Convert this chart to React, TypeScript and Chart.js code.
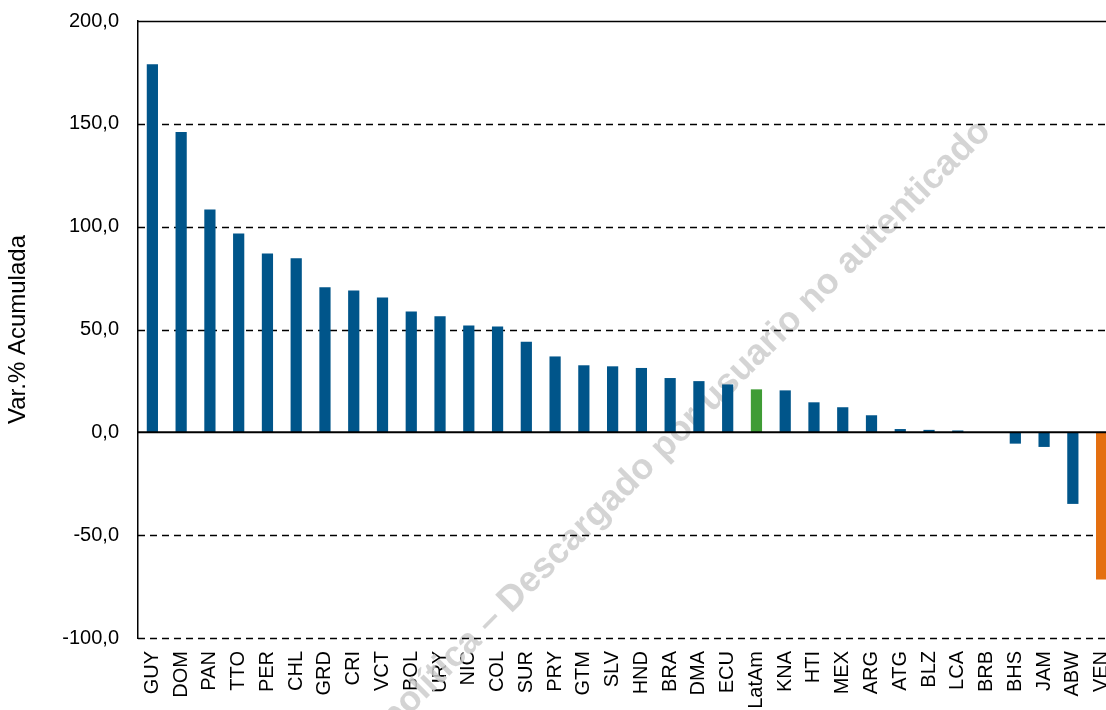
import { useEffect, useRef } from "react";
import { Chart, registerables } from "chart.js";

Chart.register(...registerables);

const categories = [
  "GUY", "DOM", "PAN", "TTO", "PER", "CHL", "GRD", "CRI", "VCT", "BOL",
  "URY", "NIC", "COL", "SUR", "PRY", "GTM", "SLV", "HND", "BRA", "DMA",
  "ECU", "LatAm", "KNA", "HTI", "MEX", "ARG", "ATG", "BLZ", "LCA", "BRB",
  "BHS", "JAM", "ABW", "VEN",
];

const values = [
  179.0, 146.0, 108.4, 96.7, 87.0, 84.6, 70.5, 69.0, 65.6, 58.8,
  56.4, 51.9, 51.5, 44.1, 36.9, 32.6, 32.1, 31.3, 26.4, 24.9,
  23.3, 20.9, 20.4, 14.6, 12.2, 8.3, 1.6, 1.2, 0.9, -0.3,
  -5.5, -7.1, -34.8, -71.6,
];

const yTickValues = [-100, -50, 0, 50, 100, 150, 200];
const yTitle = "Var.% Acumulada";
const watermarkText = "política – Descargado por usuario no autenticado";

const BLUE = "#00558A";
const GREEN = "#3F9C35";
const ORANGE = "#E46F10";

const barColors = categories.map((c) =>
  c === "LatAm" ? GREEN : c === "VEN" ? ORANGE : BLUE
);

const FONT = "'Liberation Sans', Arial, sans-serif";

const customPlugin = {
  id: "customGridAndWatermark",
  beforeDatasetsDraw(chart: any) {
    const { ctx, chartArea, scales } = chart;
    const y = scales.y;
    ctx.save();
    // watermark
    ctx.save();
    ctx.font = `bold 36px ${FONT}`;
    ctx.fillStyle = "rgba(205,205,205,0.85)";
    ctx.textAlign = "right";
    ctx.textBaseline = "middle";
    ctx.translate(985, 126);
    ctx.rotate(-Math.PI / 4);
    ctx.fillText(watermarkText, 0, 0);
    ctx.restore();
    // gridlines
    ctx.strokeStyle = "#000";
    ctx.lineWidth = 1.3;
    for (const v of yTickValues) {
      if (v === 0) continue;
      const py = Math.round(y.getPixelForValue(v)) + 0.5;
      ctx.setLineDash(v === 200 ? [] : [7, 5]);
      ctx.beginPath();
      ctx.moveTo(chartArea.left, py);
      ctx.lineTo(chartArea.right, py);
      ctx.stroke();
    }
    ctx.restore();
  },
  afterDatasetsDraw(chart: any) {
    const { ctx, chartArea, scales } = chart;
    const py = scales.y.getPixelForValue(0);
    ctx.save();
    ctx.strokeStyle = "#000";
    ctx.lineWidth = 2;
    ctx.setLineDash([]);
    ctx.beginPath();
    ctx.moveTo(chartArea.left, py);
    ctx.lineTo(chartArea.right, py);
    ctx.stroke();
    ctx.restore();
  },
};

export default function App() {
  const canvasRef = useRef<HTMLCanvasElement | null>(null);

  useEffect(() => {
    const canvas = canvasRef.current;
    if (!canvas) return;
    const chart = new Chart(canvas, {
      type: "bar",
      data: {
        labels: categories,
        datasets: [
          {
            data: values,
            backgroundColor: barColors,
            borderWidth: 0,
            barPercentage: 0.39,
            categoryPercentage: 1,
          },
        ],
      },
      options: {
        responsive: false,
        animation: false,
        devicePixelRatio: 1,
        layout: { padding: { top: 21, right: 18, bottom: 0, left: 0 } },
        plugins: {
          legend: { display: false },
          tooltip: { enabled: false },
        },
        scales: {
          x: {
            grid: { display: false, drawTicks: false },
            border: { display: false },
            ticks: {
              autoSkip: false,
              maxRotation: 90,
              minRotation: 90,
              color: "#000",
              padding: 13,
              font: { family: FONT, size: 20 },
            },
            afterFit: (s: any) => {
              s.height = 72;
              s.paddingLeft = 0;
              s.paddingRight = 0;
            },
          },
          y: {
            min: -100,
            max: 200,
            afterBuildTicks: (s: any) => {
              s.ticks = yTickValues.map((v) => ({ value: v }));
            },
            grid: { display: false, drawTicks: false },
            border: { display: true, color: "#000", width: 1.5 },
            ticks: {
              color: "#000",
              padding: 19,
              font: { family: FONT, size: 20 },
              callback: (v: any) => Number(v).toFixed(1).replace(".", ","),
            },
            title: {
              display: true,
              text: yTitle,
              color: "#000",
              font: { family: FONT, size: 24 },
              padding: { top: 4, bottom: 4 },
            },
            afterFit: (s: any) => {
              s.width = 138;
              s.paddingTop = 0;
              s.paddingBottom = 0;
            },
          },
        },
      },
      plugins: [customPlugin],
    });
    return () => chart.destroy();
  }, []);

  return (
    <div
      style={{
        position: "fixed",
        left: 0,
        top: 0,
        width: "1106px",
        height: "710px",
        overflow: "hidden",
        background: "#fff",
      }}
    >
      <canvas
        ref={canvasRef}
        width={1134}
        height={710}
        style={{ display: "block", width: "1134px", height: "710px" }}
      />
    </div>
  );
}
